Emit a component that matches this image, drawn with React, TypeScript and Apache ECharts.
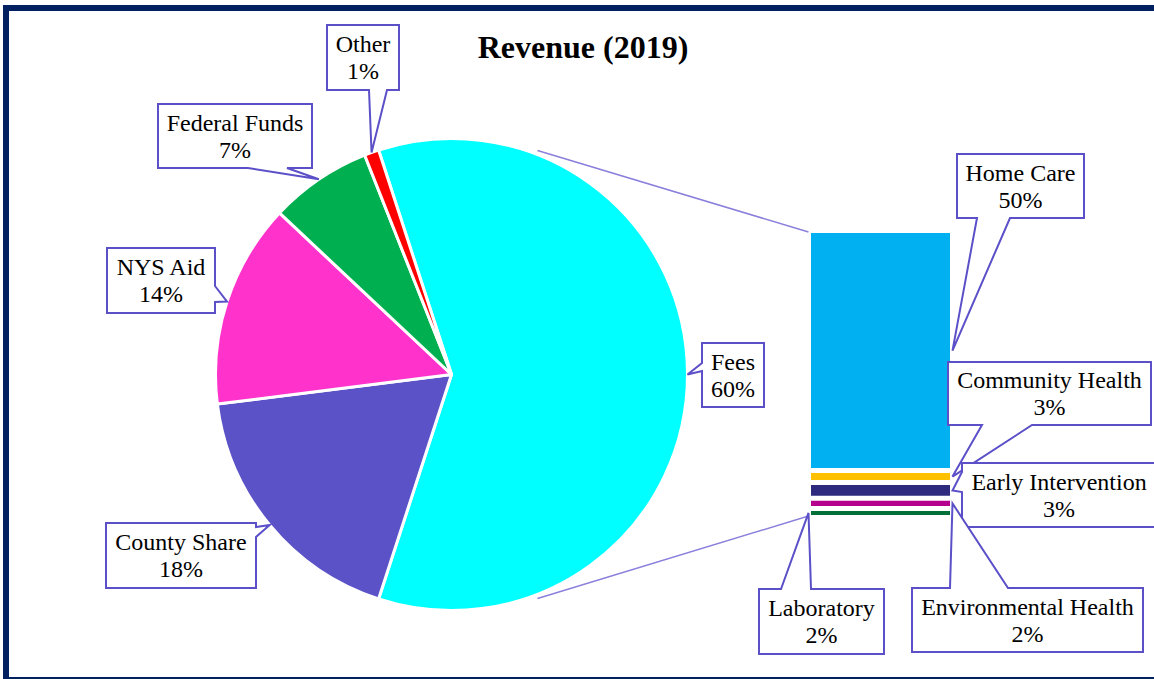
import React, { useEffect, useRef } from "react";
import * as echarts from "echarts";

// ---------- data ----------
const TITLE = "Revenue (2019)";

const pieNames = ["Fees", "County Share", "NYS Aid", "Federal Funds", "Other"];
const pieValues = [60, 18, 14, 7, 1];
const pieColors = ["#00FFFF", "#5B52C8", "#FF33CC", "#00B050", "#FF0000"];

const barNames = ["Home Care", "Community Health", "Early Intervention", "Environmental Health", "Laboratory"];
const barValues = [50.2, 2.5, 3.3, 2.1, 1.9];
const barColors = ["#00B0F0", "#FFC000", "#2E2A7E", "#B4008C", "#007038"];

// ---------- layout ----------
const W = 1154;
const H = 679;
const PIE_CX = 451.5;
const PIE_CY = 374.5;
const PIE_R = 236;
const PIE_START = 108;
const GRID = { left: 808.5, top: 230.5, width: 144, height: 287 };
const CONNECT_ANGLE = 69;
const FONT = "Liberation Serif";
const CALLOUT_STROKE = "#5B50C8";

type Callout = { box: number[]; side: string; base: number[]; edge?: string };

const pieCallouts: Callout[] = [
  { box: [702, 343, 62, 64], side: "left", base: [363, 371] },
  { box: [106, 523, 150, 65], side: "right", base: [527, 537] },
  { box: [107, 248, 108, 65], side: "right", base: [286, 302] },
  { box: [158, 104, 154, 64], side: "bottom", base: [248, 287] },
  { box: [327, 25, 72, 65], side: "bottom", base: [369, 387] },
];

const barCallouts: Callout[] = [
  { box: [957, 154, 127, 64], side: "bottom", base: [977, 1010], edge: "right" },
  { box: [948, 362, 203, 63], side: "bottom", base: [982, 1032], edge: "right" },
  { box: [962, 463, 194, 64], side: "left", base: [472, 492], edge: "right" },
  { box: [912, 588, 231, 64], side: "top", base: [950, 1008], edge: "right" },
  { box: [759, 589, 125, 65], side: "top", base: [781, 811], edge: "left" },
];

function calloutPoints(c: Callout, tip: number[]): number[][] {
  const [x, y, w, h] = c.box;
  const [b1, b2] = c.base;
  switch (c.side) {
    case "bottom":
      return [[x, y], [x + w, y], [x + w, y + h], [b2, y + h], tip, [b1, y + h], [x, y + h]];
    case "top":
      return [[x, y], [b1, y], tip, [b2, y], [x + w, y], [x + w, y + h], [x, y + h]];
    case "left":
      return [[x, y], [x + w, y], [x + w, y + h], [x, y + h], [x, b2], tip, [x, b1]];
    default:
      return [[x, y], [x + w, y], [x + w, b1], tip, [x + w, b2], [x + w, y + h], [x, y + h]];
  }
}

function calloutElements(c: Callout, tip: number[], text: string): any[] {
  const [x, y, w, h] = c.box;
  return [
    {
      type: "polygon",
      z: 100,
      shape: { points: calloutPoints(c, tip) },
      style: { fill: "#ffffff", stroke: CALLOUT_STROKE, lineWidth: 2 },
    },
    {
      type: "text",
      z: 101,
      x: x + w / 2,
      y: y + h / 2,
      style: {
        text,
        fill: "#000000",
        font: "24px " + FONT,
        lineHeight: 27,
        textAlign: "center",
        textVerticalAlign: "middle",
      },
    },
  ];
}

export default function App() {
  const ref = useRef<HTMLDivElement>(null);

  useEffect(() => {
    if (!ref.current) return;
    const chart = echarts.init(ref.current, undefined, { renderer: "svg" });
    const pieTotal = pieValues.reduce((a, b) => a + b, 0);
    const barTotal = barValues.reduce((a, b) => a + b, 0);

    const barSeries = barNames.map((name, i) => ({
      type: "bar",
      name,
      stack: "fees",
      barWidth: "100%",
      data: [barValues[i]],
      itemStyle: { color: barColors[i], borderColor: "#ffffff", borderWidth: 2.5 },
      label: { show: false },
      silent: true,
    }));

    chart.setOption({
      animation: false,
      backgroundColor: "#ffffff",
      textStyle: { fontFamily: FONT },
      title: {
        text: TITLE,
        left: 578,
        top: 26,
        textAlign: "center",
        textStyle: { fontFamily: FONT, fontWeight: "bold", fontSize: 32, color: "#000000" },
      },
      grid: { left: GRID.left, top: GRID.top, width: GRID.width, height: GRID.height },
      xAxis: { type: "category", data: ["Fees"], show: false },
      yAxis: { type: "value", min: 0, max: barTotal, inverse: true, show: false },
      series: [
        {
          type: "pie",
          center: [PIE_CX, PIE_CY],
          radius: PIE_R,
          startAngle: PIE_START,
          clockwise: true,
          label: { show: false },
          labelLine: { show: false },
          silent: true,
          itemStyle: { borderColor: "#ffffff", borderWidth: 3 },
          data: pieNames.map((n, i) => ({ name: n, value: pieValues[i], itemStyle: { color: pieColors[i] } })),
        },
        ...barSeries,
      ],
    });

    const graphics: any[] = [];

    const topBar = chart.convertToPixel({ xAxisIndex: 0, yAxisIndex: 0 }, [0, 0]) as number[];
    const botBar = chart.convertToPixel({ xAxisIndex: 0, yAxisIndex: 0 }, [0, barTotal]) as number[];
    const rad = (CONNECT_ANGLE * Math.PI) / 180;
    const rl = PIE_R + 4;
    graphics.push({
      type: "line",
      z: 50,
      shape: { x1: PIE_CX + rl * Math.cos(rad), y1: PIE_CY - rl * Math.sin(rad), x2: GRID.left, y2: topBar[1] + 1.5 },
      style: { stroke: "#8A80DC", lineWidth: 1.5 },
    });
    graphics.push({
      type: "line",
      z: 50,
      shape: { x1: PIE_CX + rl * Math.cos(rad), y1: PIE_CY + rl * Math.sin(rad), x2: GRID.left, y2: botBar[1] - 1.5 },
      style: { stroke: "#8A80DC", lineWidth: 1.5 },
    });

    let a = PIE_START;
    pieValues.forEach((v, i) => {
      const span = (v / pieTotal) * 360;
      const mid = ((a - span / 2) * Math.PI) / 180;
      a -= span;
      const tip = [PIE_CX + PIE_R * Math.cos(mid), PIE_CY - PIE_R * Math.sin(mid)];
      const pct = Math.round((v / pieTotal) * 100) + "%";
      graphics.push(...calloutElements(pieCallouts[i], tip, pieNames[i] + "\n" + pct));
    });

    let cum = 0;
    barValues.forEach((v, i) => {
      const midVal = cum + v / 2;
      cum += v;
      const p = chart.convertToPixel({ xAxisIndex: 0, yAxisIndex: 0 }, [0, midVal]) as number[];
      const c = barCallouts[i];
      const tx = c.edge === "left" ? GRID.left : GRID.left + GRID.width;
      const pct = Math.round((v / pieTotal) * 100) + "%";
      graphics.push(...calloutElements(c, [tx, p[1]], barNames[i] + "\n" + pct));
    });

    graphics.push({
      type: "rect",
      z: 120,
      shape: { x: 6, y: 8, width: 1170, height: 672 },
      style: { fill: "none", stroke: "#002060", lineWidth: 6 },
    });

    chart.setOption({ graphic: graphics });

    return () => chart.dispose();
  }, []);

  return (
    <div
      ref={ref}
      style={{ position: "absolute", left: 0, top: 0, width: W, height: H, background: "#ffffff" }}
    />
  );
}
